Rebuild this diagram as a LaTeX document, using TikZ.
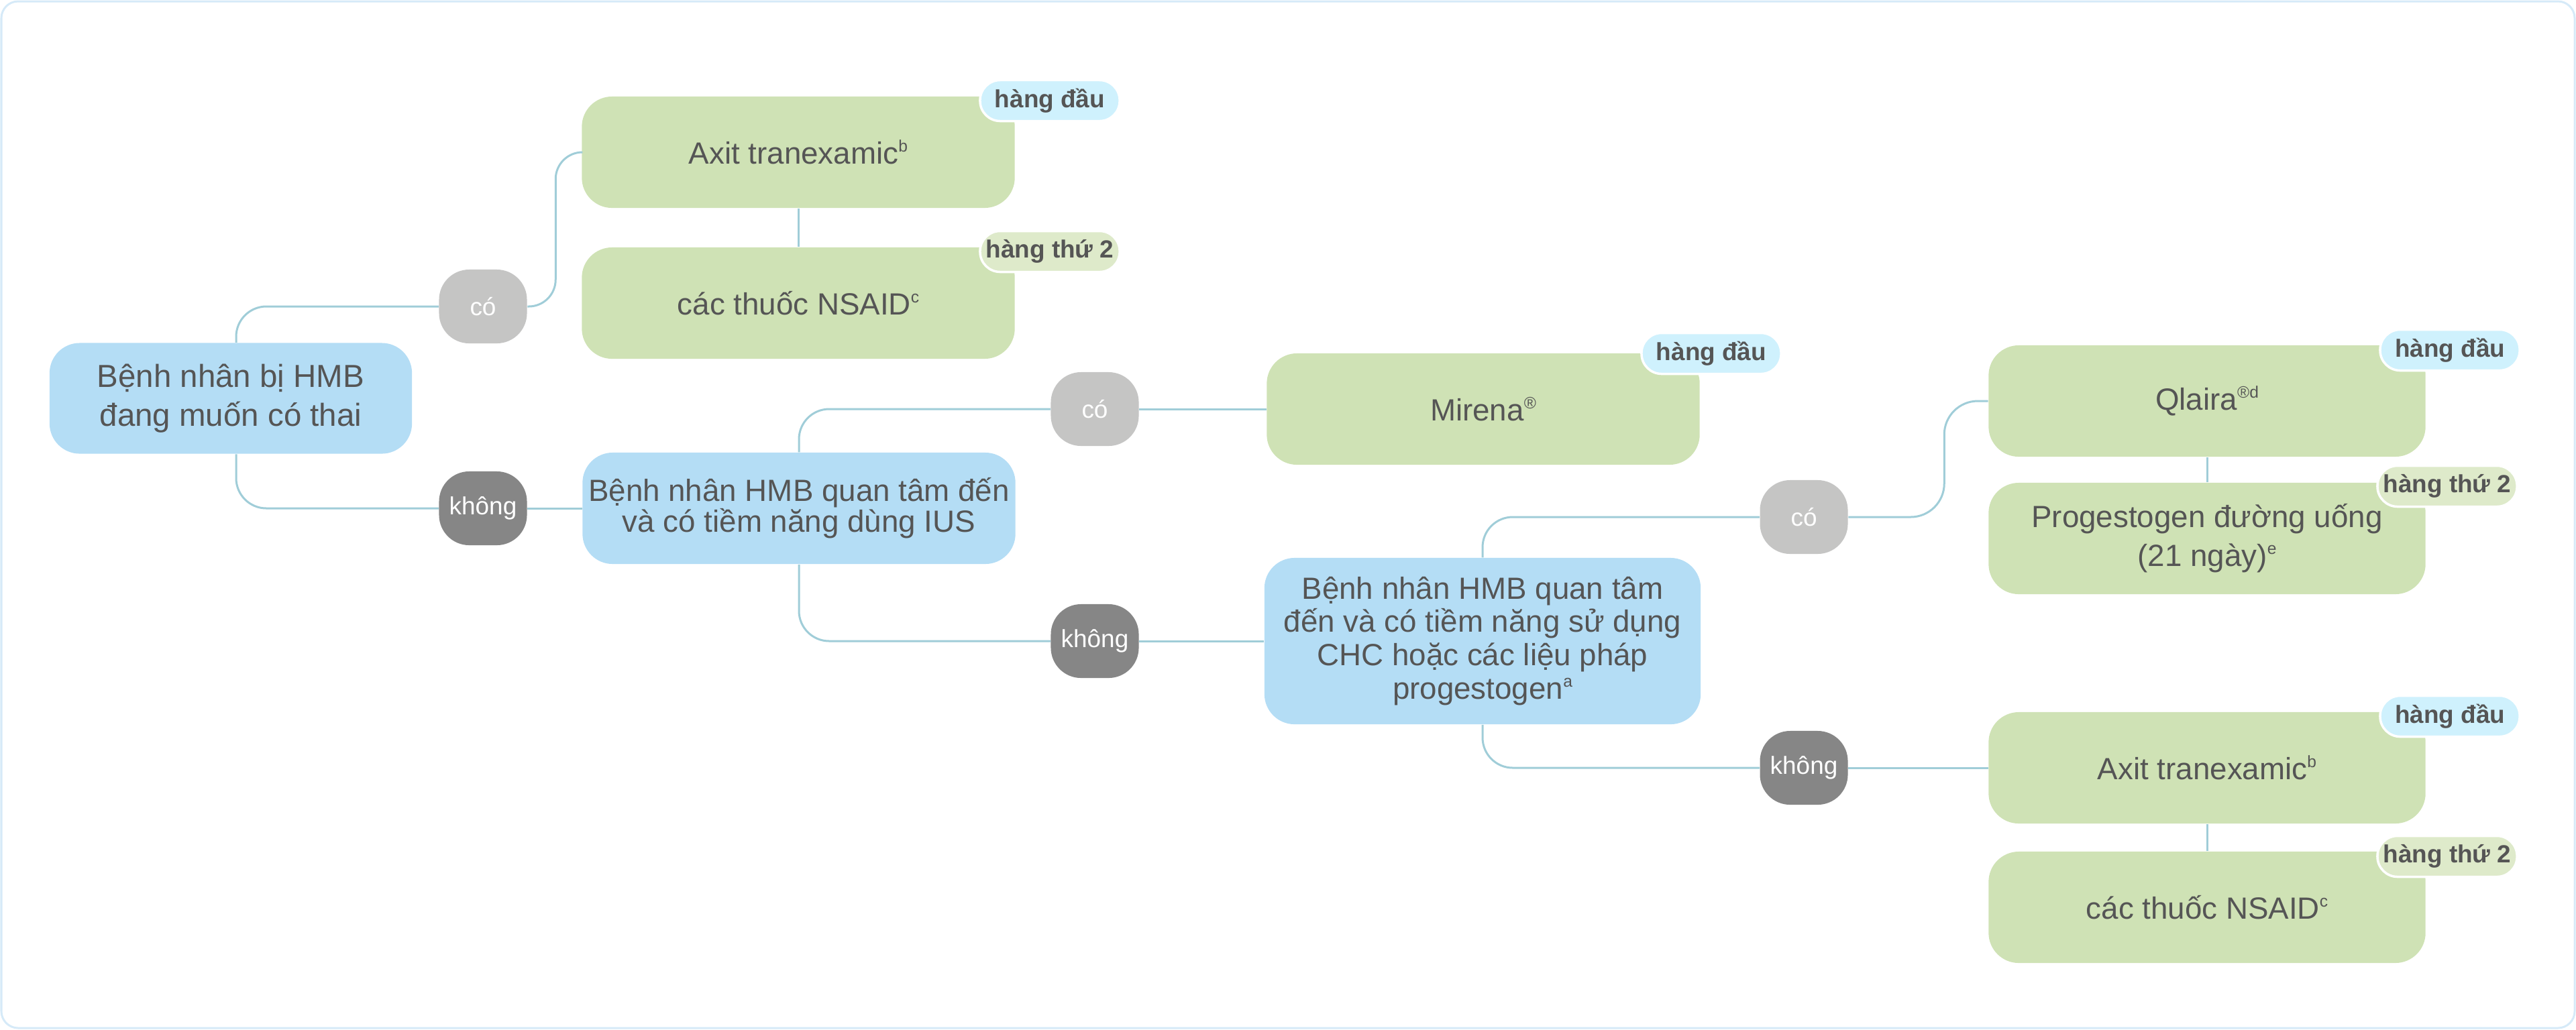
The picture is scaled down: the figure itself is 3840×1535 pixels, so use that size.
\documentclass[tikz,border=0pt]{standalone}
\usepackage{fontspec}
\setmainfont{Liberation Sans}
\usetikzlibrary{positioning}
\definecolor{bb}{RGB}{180,221,245}
\definecolor{gg}{RGB}{207,226,181}
\definecolor{tb}{RGB}{207,241,253}
\definecolor{tg}{RGB}{222,234,202}
\definecolor{yy}{RGB}{197,197,196}
\definecolor{nn}{RGB}{134,134,134}
\definecolor{tx}{RGB}{85,85,85}
\definecolor{ln}{RGB}{160,205,216}
\definecolor{fr}{RGB}{214,234,248}
\def\fn#1{\raisebox{0.75ex}{\fontsize{7}{8}\selectfont #1}}
\tikzset{
  bluebox/.style={fill=bb, rounded corners=0.45cm, minimum width=6.45cm, minimum height=1.66cm,
    inner sep=0pt, align=center, text=tx, font=\fontsize{13}{16.5}\selectfont},
  greenbox/.style={bluebox, fill=gg},
  yesbox/.style={fill=yy, rounded corners=0.45cm, minimum width=1.31cm, minimum height=1.1cm,
    inner sep=0pt, text=white, font=\fontsize{10.5}{12}\selectfont},
  nobox/.style={yesbox, fill=nn},
  firsttag/.style={fill=tb, draw=white, line width=0.035cm, rounded corners=0.3cm, minimum width=2.08cm,
    minimum height=0.61cm, inner sep=0pt, text=tx, font=\bfseries\fontsize{10.5}{12}\selectfont},
  secondtag/.style={firsttag, fill=tg},
  conn/.style={ln, line width=0.03cm, rounded corners=0.45cm}
}
\begin{document}
\begin{tikzpicture}[x=0.01cm, y=-0.01cm]
\useasboundingbox (0,0) rectangle (3840,1535);
\draw [fr, line width=0.03cm, rounded corners=0.25cm] (2,2) rectangle (3838,1533);

% left part
\node [bluebox, minimum width=5.4cm, minimum height=1.65cm, font=\fontsize{13.5}{16.5}\selectfont] (root) at (344,594) {Bệnh nhân bị HMB\\đang muốn có thai};
\node [yesbox] (yesA) at (720,457) {có};
\node [nobox] (noA) at (720,758) {không};
\node [greenbox] (axitA) at (1190,227) {Axit tranexamic\fn{b}};
\node [greenbox] (nsaidA) at (1190,452) {các thuốc NSAID\fn{c}};
\node [bluebox, font=\fontsize{13}{13.1}\selectfont] (ius) at (1191,758) {Bệnh nhân HMB quan tâm đến\\và có tiềm năng dùng IUS};

% middle part
\node [yesbox] (yesB) at (1632,610) {có};
\node [nobox] (noB) at (1632,956) {không};
\node [greenbox] (mirena) at (2211,610) {Mirena\fn{®}};
\node [bluebox, minimum width=6.5cm, minimum height=2.48cm, font=\fontsize{13}{14.2}\selectfont] (chc) at (2210,956) {Bệnh nhân HMB quan tâm\\đến và có tiềm năng sử dụng\\CHC hoặc các liệu pháp\\progestogen\fn{a}};

% right part
\node [yesbox] (yesC) at (2689,771) {có};
\node [nobox] (noC) at (2689,1145) {không};
\node [greenbox, minimum width=6.51cm] (qlaira) at (3290,598) {Qlaira\fn{®d}};
\node [greenbox, minimum width=6.51cm] (prog) at (3290,803) {Progestogen đường uống\\(21 ngày)\fn{e}};
\node [greenbox, minimum width=6.51cm] (axitB) at (3290,1145) {Axit tranexamic\fn{b}};
\node [greenbox, minimum width=6.51cm] (nsaidB) at (3290,1353) {các thuốc NSAID\fn{c}};

% tags
\node [firsttag] (tagA) at (1565,150) {hàng đầu};
\node [secondtag] (tagB) at (1565,375) {hàng thứ 2};
\node [firsttag] (tagC) at (2551,527) {hàng đầu};
\node [firsttag] (tagD) at (3652,522) {hàng đầu};
\node [secondtag] (tagE) at (3648,725) {hàng thứ 2};
\node [firsttag] (tagF) at (3652,1068) {hàng đầu};
\node [secondtag] (tagG) at (3648,1277) {hàng thứ 2};

% connectors
\draw [conn] ([xshift=0.08cm]root.north) |- (yesA.west);
\draw [conn, rounded corners=0.4cm] (yesA.east) -- ++(42,0) |- (axitA.west);
\draw [conn] (axitA.south) -- (nsaidA.north);
\draw [conn] ([xshift=0.08cm]root.south) |- (noA.west);
\draw [conn] (noA.east) -- (ius.west);
\draw [conn] (ius.north) |- (yesB.west);
\draw [conn] (yesB.east) -- (mirena.west);
\draw [conn] (ius.south) |- (noB.west);
\draw [conn] (noB.east) -- (chc.west);
\draw [conn] (chc.north) |- (yesC.west);
\draw [conn, rounded corners=0.5cm] (yesC.east) -- ++(143,0) |- (qlaira.west);
\draw [conn] (qlaira.south) -- (prog.north);
\draw [conn] (chc.south) |- (noC.west);
\draw [conn] (noC.east) -- (axitB.west);
\draw [conn] (axitB.south) -- (nsaidB.north);
\end{tikzpicture}
\end{document}
